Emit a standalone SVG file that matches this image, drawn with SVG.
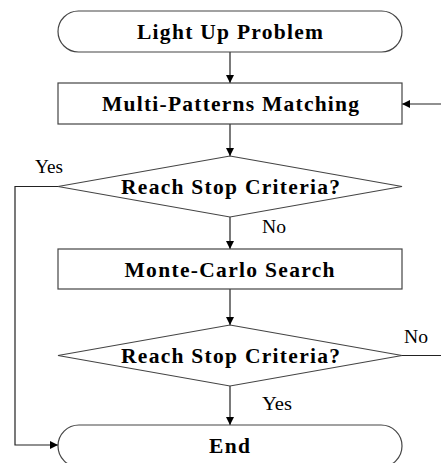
<svg xmlns="http://www.w3.org/2000/svg" width="441" height="463" viewBox="0 0 441 463">
  <defs>
    <marker id="arrow" viewBox="0 0 10 10" refX="10" refY="5" markerWidth="8" markerHeight="8" markerUnits="userSpaceOnUse" orient="auto">
      <path d="M0,0 L10,5 L0,10 Z" fill="#000"/>
    </marker>
    <style>
      .shape { fill: #fff; stroke: #444; stroke-width: 1.2; }
      .edge { fill: none; stroke: #222; stroke-width: 1.2; }
      .title { font-family: "Liberation Serif", "Times New Roman", serif; font-weight: bold; font-size: 21.5px; fill: #000; text-anchor: middle; }
      .label { font-family: "Liberation Serif", "Times New Roman", serif; font-size: 19px; fill: #000; }
    </style>
  </defs>
  <rect width="441" height="463" fill="#fff"/>

  <g id="connectors">
    <line class="edge" x1="230" y1="52" x2="230" y2="83" marker-end="url(#arrow)"/>
    <line class="edge" x1="441" y1="104" x2="402" y2="104" marker-end="url(#arrow)"/>
    <line class="edge" x1="230" y1="124" x2="230" y2="156" marker-end="url(#arrow)"/>
    <line class="edge" x1="230" y1="217" x2="230" y2="249" marker-end="url(#arrow)"/>
    <polyline class="edge" points="58,186.5 15,186.5 15,445 58,445" marker-end="url(#arrow)"/>
    <line class="edge" x1="230" y1="289" x2="230" y2="325" marker-end="url(#arrow)"/>
    <line class="edge" x1="402" y1="355.5" x2="441" y2="355.5"/>
    <line class="edge" x1="230" y1="386" x2="230" y2="425" marker-end="url(#arrow)"/>
    <text class="label" x="35" y="173" textLength="28" lengthAdjust="spacingAndGlyphs">Yes</text>
    <text class="label" x="262" y="233" textLength="24" lengthAdjust="spacingAndGlyphs">No</text>
    <text class="label" x="404" y="343" textLength="24" lengthAdjust="spacingAndGlyphs">No</text>
    <text class="label" x="262" y="410" textLength="30" lengthAdjust="spacingAndGlyphs">Yes</text>
  </g>

  <g id="start">
    <rect class="shape" x="58" y="11" width="344" height="41" rx="20.5" ry="20.5"/>
    <text class="title" x="230" y="38.5" textLength="186" lengthAdjust="spacing">Light Up Problem</text>
  </g>

  <g id="matching">
    <rect class="shape" x="58" y="83" width="344" height="41"/>
    <text class="title" x="230.5" y="111" textLength="257" lengthAdjust="spacing">Multi-Patterns Matching</text>
  </g>

  <g id="check1">
    <polygon class="shape" points="230,156 402,186.5 230,217 58,186.5"/>
    <text class="title" x="230.5" y="193.5" textLength="219" lengthAdjust="spacing">Reach Stop Criteria?</text>
  </g>

  <g id="search">
    <rect class="shape" x="58" y="249" width="344" height="40"/>
    <text class="title" x="229.5" y="276.5" textLength="210" lengthAdjust="spacing">Monte-Carlo Search</text>
  </g>

  <g id="check2">
    <polygon class="shape" points="230,325 402,355.5 230,386 58,355.5"/>
    <text class="title" x="230.5" y="362.5" textLength="219" lengthAdjust="spacing">Reach Stop Criteria?</text>
  </g>

  <g id="end">
    <rect class="shape" x="58" y="425" width="344" height="42" rx="21" ry="21"/>
    <text class="title" x="229.5" y="452.5" textLength="41" lengthAdjust="spacing">End</text>
  </g>
</svg>
